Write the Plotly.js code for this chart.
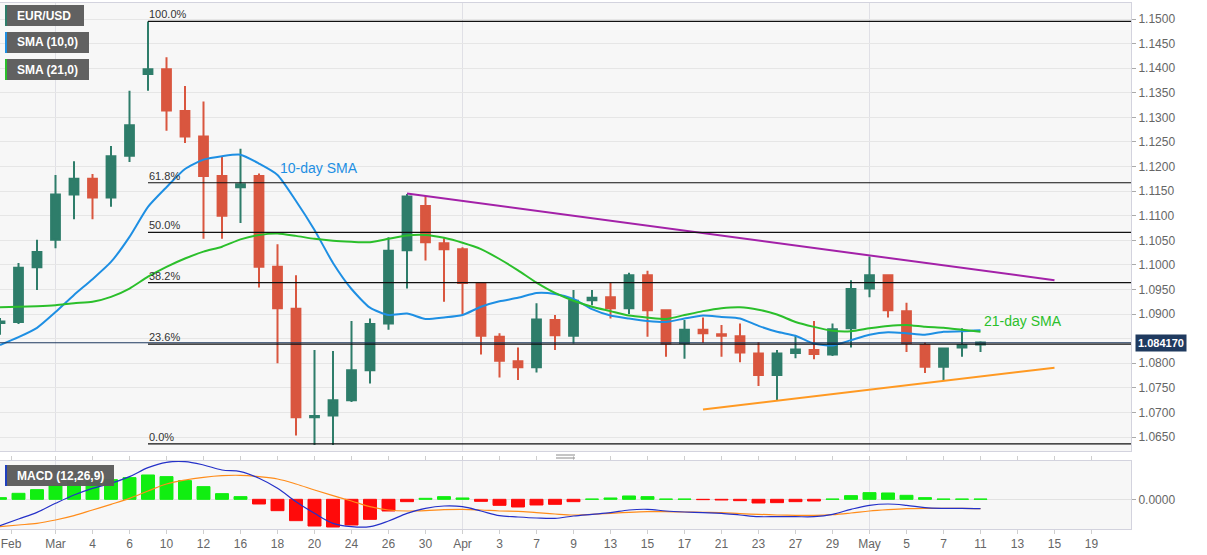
<!DOCTYPE html>
<html><head><meta charset="utf-8">
<script src="https://cdn.plot.ly/plotly-3.0.1.min.js"></script>
<style>html,body{margin:0;padding:0;background:#fff}#chart{width:1207px;height:555px}</style>
</head><body><div id="chart"></div>
<script>
// ---------- data ----------
const dates = ['2020-02-26','2020-02-27','2020-02-28','2020-03-02','2020-03-03','2020-03-04','2020-03-05','2020-03-06',
 '2020-03-09','2020-03-10','2020-03-11','2020-03-12','2020-03-13','2020-03-16','2020-03-17','2020-03-18','2020-03-19','2020-03-20',
 '2020-03-23','2020-03-24','2020-03-25','2020-03-26','2020-03-27','2020-03-30','2020-03-31','2020-04-01','2020-04-02','2020-04-03',
 '2020-04-06','2020-04-07','2020-04-08','2020-04-09','2020-04-10','2020-04-13','2020-04-14','2020-04-15','2020-04-16','2020-04-17',
 '2020-04-20','2020-04-21','2020-04-22','2020-04-23','2020-04-24','2020-04-27','2020-04-28','2020-04-29','2020-04-30','2020-05-01',
 '2020-05-04','2020-05-05','2020-05-06','2020-05-07','2020-05-08','2020-05-11'];
const futureDates = ['2020-05-12','2020-05-13','2020-05-14','2020-05-15','2020-05-18','2020-05-19'];

const open  = [1.0882,1.0884,1.0995,1.1051,1.1143,1.1175,1.1137,1.1222,1.1388,1.1398,1.1313,1.1261,1.1181,1.1158,1.1181,1.0996,1.0911,1.0690,
 1.0694,1.0725,1.0786,1.0881,1.1030,1.1120,1.1044,1.1032,1.0961,1.0854,1.0804,1.0792,1.0888,1.0856,1.0928,1.0934,1.0912,1.0979,1.0908,1.0841,
 1.0868,1.0859,1.0855,1.0820,1.0776,1.0821,1.0827,1.0818,1.0871,1.0952,1.0979,1.0906,1.0837,1.0793,1.0832,1.0838];
const high  = [1.0892,1.1004,1.1051,1.1183,1.1211,1.1185,1.1242,1.1354,1.1495,1.1422,1.1364,1.1332,1.1221,1.1236,1.1186,1.1042,1.0979,1.0827,
 1.0825,1.0886,1.0891,1.1056,1.1144,1.1140,1.1054,1.1036,1.0965,1.0861,1.0832,1.0922,1.0898,1.0949,1.0949,1.0965,1.0984,1.0988,1.0910,1.0888,
 1.0893,1.0878,1.0881,1.0843,1.0827,1.0856,1.0886,1.0881,1.0969,1.1017,1.0980,1.0923,1.0842,1.0832,1.0871,1.0845];
const low   = [1.0858,1.0880,1.0949,1.1034,1.1093,1.1093,1.1118,1.1209,1.1354,1.1273,1.1248,1.1053,1.1053,1.1085,1.0954,1.0800,1.0653,1.0634,
 1.0634,1.0721,1.0759,1.0868,1.0952,1.1009,1.0925,1.0900,1.0818,1.0771,1.0766,1.0781,1.0827,1.0840,1.0918,1.0891,1.0900,1.0854,1.0813,1.0809,
 1.0841,1.0813,1.0802,1.0754,1.0725,1.0810,1.0808,1.0815,1.0832,1.0934,1.0893,1.0823,1.0780,1.0765,1.0813,1.0823];
const close = [1.0885,1.0994,1.1026,1.1143,1.1175,1.1137,1.1221,1.1284,1.1398,1.1314,1.1261,1.1181,1.1100,1.1164,1.0996,1.0912,1.0690,1.0693,
 1.0725,1.0786,1.0880,1.1029,1.1139,1.1046,1.1032,1.0963,1.0856,1.0805,1.0792,1.0889,1.0857,1.0927,1.0933,1.0912,1.0979,1.0908,1.0840,1.0868,
 1.0861,1.0856,1.0822,1.0776,1.0820,1.0828,1.0819,1.0869,1.0951,1.0979,1.0908,1.0841,1.0793,1.0830,1.0837,1.0842];

const sma10 = [1.0837,1.0853,1.0872,1.0904,1.0939,1.0971,1.1006,1.1057,1.1118,1.1158,1.1195,1.1214,1.1221,1.1224,1.1206,1.1183,1.1130,1.1071,
 1.1004,1.0951,1.0913,1.0898,1.0901,1.0890,1.0893,1.0898,1.0915,1.0926,1.0933,1.0943,1.0941,1.0931,1.0910,1.0897,1.0891,1.0886,1.0884,1.0891,
 1.0897,1.0894,1.0891,1.0876,1.0864,1.0856,1.0840,1.0836,1.0847,1.0858,1.0863,1.0861,1.0858,1.0864,1.0865,1.0867];
const sma21 = [1.0914,1.0915,1.0916,1.0918,1.0922,1.0925,1.0935,1.0952,1.0976,1.0996,1.1013,1.1027,1.1037,1.1052,1.1061,1.1064,1.1059,1.1053,
 1.1049,1.1047,1.1046,1.1053,1.1060,1.1061,1.1055,1.1045,1.1032,1.1012,1.0989,1.0964,1.0943,1.0927,1.0915,1.0906,1.0897,1.0893,1.0890,1.0898,
 1.0906,1.0912,1.0914,1.0909,1.0899,1.0884,1.0874,1.0866,1.0865,1.0871,1.0876,1.0878,1.0874,1.0872,1.0868,1.0864];

const macdLine = [-0.0079,-0.0059,-0.0039,-0.0012,0.0013,0.0033,0.0048,0.0068,0.0095,0.0111,0.0113,0.0103,0.0088,0.0083,0.0063,0.0033,-0.0007,-0.0042,
 -0.0072,-0.0082,-0.0082,-0.0065,-0.0042,-0.0027,-0.0020,-0.0022,-0.0035,-0.0049,-0.0053,-0.0056,-0.0057,-0.0050,-0.0045,-0.0040,-0.0032,-0.0030,-0.0035,-0.0038,
 -0.0040,-0.0042,-0.0047,-0.0052,-0.0052,-0.0052,-0.0052,-0.0045,-0.0030,-0.0018,-0.0014,-0.0018,-0.0025,-0.0027,-0.0027,-0.0028];
const signalLine = [-0.0082,-0.0077,-0.0072,-0.0062,-0.0049,-0.0032,-0.0015,0.0003,0.0025,0.0046,0.0058,0.0066,0.0071,0.0072,0.0068,0.0061,0.0046,0.0028,
 0.0011,-0.0005,-0.0022,-0.0032,-0.0035,-0.0034,-0.0031,-0.0030,-0.0032,-0.0035,-0.0036,-0.0040,-0.0044,-0.0047,-0.0045,-0.0042,-0.0039,-0.0037,-0.0037,-0.0038,
 -0.0039,-0.0040,-0.0043,-0.0045,-0.0047,-0.0048,-0.0048,-0.0046,-0.0041,-0.0035,-0.0031,-0.0028,-0.0027,-0.0027,-0.0027,-0.0028];
const macdHist = [0.0005,0.0018,0.0029,0.0041,0.0053,0.0055,0.0059,0.0065,0.0073,0.0068,0.0056,0.0038,0.0017,0.0008,-0.0014,-0.0034,-0.0064,-0.0080,
 -0.0083,-0.0077,-0.0060,-0.0035,-0.0007,0.0003,0.0008,0.0004,-0.0006,-0.0018,-0.0023,-0.0017,-0.0015,-0.0007,0.0001,0.0004,0.0010,0.0008,0.0001,0.0001,
 -0.0001,-0.0002,-0.0004,-0.0011,-0.0010,-0.0007,-0.0005,0.0001,0.0011,0.0020,0.0019,0.0012,0.0005,0.0001,0.0001,0.0001];

const fibLabels = ['0.0%','23.6%','38.2%','50.0%','61.8%','100.0%'];
const fibPrices = [1.0636,1.0839,1.0964,1.1066,1.1167,1.1495];
const fibStartDate = '2020-03-09';
const downTrendDates = ['2020-03-27','2020-05-15'];
const downTrendPrices = [1.1145,1.0969];
const upTrendDates = ['2020-04-20','2020-05-15'];
const upTrendPrices = [1.0706,1.0791];
const lastPrice = 1.084170;

// price-axis labels (1.0850 sits under the price tag and is not shown)
const priceTicks = [1.0650,1.0700,1.0750,1.0800,1.0900,1.0950,1.1000,1.1050,1.1100,1.1150,1.1200,1.1250,1.1300,1.1350,1.1400,1.1450,1.1500];

const tickDates = ['2020-02-26','2020-03-02','2020-03-04','2020-03-06','2020-03-10','2020-03-12','2020-03-16','2020-03-18','2020-03-20',
 '2020-03-24','2020-03-26','2020-03-30','2020-04-01','2020-04-03','2020-04-07','2020-04-09','2020-04-13','2020-04-15','2020-04-17',
 '2020-04-21','2020-04-23','2020-04-27','2020-04-29','2020-05-01','2020-05-05','2020-05-07','2020-05-11','2020-05-13','2020-05-15','2020-05-19'];
const tickLabels = ['Feb','Mar','4','6','10','12','16','18','20','24','26','30','Apr','3','7','9','13','15','17','21','23','27','29',
 'May','5','7','11','13','15','19'];
const monthStarts = ['2020-03-02','2020-04-01','2020-05-01'];

// ---------- helpers ----------
const allDays = dates.concat(futureDates);
const idx = d => allDays.indexOf(d);
const xs = dates.map(d => idx(d));
const tickVals = tickDates.map(d => idx(d));
tickVals[0] += 0.6; // keep the first label inside the page

const PLOT_W = 1131, PLOT_T = 3, PLOT_B = 529, PLOT_H = PLOT_B - PLOT_T;
const PX = x => x / PLOT_W;
const PY = y => (PLOT_B - y) / PLOT_H;
const X_END = PLOT_W / 18.5;

const G = '#2e7d6a', R = '#d9563f';
const FONT = 'Liberation Sans, Arial, sans-serif';

const traces = [
  {type:'candlestick', x:xs, open:open, high:high, low:low, close:close, xaxis:'x', yaxis:'y',
   increasing:{line:{color:G,width:2}, fillcolor:G}, decreasing:{line:{color:R,width:2}, fillcolor:R},
   whiskerwidth:0, showlegend:false, hoverinfo:'skip'},
  {type:'scatter', mode:'lines', x:xs, y:sma10, line:{color:'#1e8fe3', width:2, shape:'spline', smoothing:0.6}, xaxis:'x', yaxis:'y', hoverinfo:'skip'},
  {type:'scatter', mode:'lines', x:xs, y:sma21, line:{color:'#2bbf2b', width:2, shape:'spline', smoothing:0.6}, xaxis:'x', yaxis:'y', hoverinfo:'skip'},
  {type:'scatter', mode:'lines', x:downTrendDates.map(idx), y:downTrendPrices, line:{color:'#a321a8', width:2}, xaxis:'x', yaxis:'y', hoverinfo:'skip'},
  {type:'scatter', mode:'lines', x:upTrendDates.map(idx), y:upTrendPrices, line:{color:'#ff9922', width:2}, xaxis:'x', yaxis:'y', hoverinfo:'skip'},
  {type:'bar', x:xs, y:macdHist, xaxis:'x', yaxis:'y2',
   marker:{color:macdHist.map(v => v >= 0 ? '#11ee11' : '#ff0a0a'),
           line:{color:macdHist.map(v => v >= 0 ? '#11ee11' : '#ff0a0a'), width:1}}, hoverinfo:'skip'},
  {type:'scatter', mode:'lines', x:xs, y:signalLine, line:{color:'#ff8c1a', width:1.2, shape:'spline'}, xaxis:'x', yaxis:'y2', hoverinfo:'skip'},
  {type:'scatter', mode:'lines', x:xs, y:macdLine, line:{color:'#2430c8', width:1.2, shape:'spline'}, xaxis:'x', yaxis:'y2', hoverinfo:'skip'}
];

const shapes = [];
const annotations = [];

// current price line
shapes.push({type:'line', xref:'x', yref:'y', x0:0, x1:X_END, y0:lastPrice, y1:lastPrice, line:{color:'#1f3a5f', width:1}});
// fib levels
fibPrices.forEach((p,k) => {
  shapes.push({type:'line', xref:'x', yref:'y', x0:idx(fibStartDate), x1:X_END, y0:p, y1:p, line:{color:'#111', width:1.2}});
  annotations.push({xref:'x', yref:'y', x:idx(fibStartDate), y:p, text:fibLabels[k], showarrow:false,
    xanchor:'left', yanchor:'bottom', xshift:-1, yshift:-1, font:{family:FONT, size:11, color:'#333'}});
});
// legend boxes
const boxes = [
  {t:'EUR/USD', x0:5, x1:84, y0:5, y1:26, c:'#2e7d6a'},
  {t:'SMA (10,0)', x0:5, x1:89, y0:32, y1:53, c:'#1e8fe3'},
  {t:'SMA (21,0)', x0:5, x1:89, y0:59, y1:80, c:'#2bbf2b'},
  {t:'MACD (12,26,9)', x0:5, x1:114, y0:465, y1:486, c:'#1f3fbf'}
];
boxes.forEach(b => {
  shapes.push({type:'rect', xref:'paper', yref:'paper', x0:PX(b.x0), x1:PX(b.x1), y0:PY(b.y1), y1:PY(b.y0),
    fillcolor:'#5c5c5c', line:{width:0}, opacity:0.97});
  shapes.push({type:'rect', xref:'paper', yref:'paper', x0:PX(b.x0), x1:PX(b.x0+2), y0:PY(b.y1), y1:PY(b.y0),
    fillcolor:b.c, line:{width:0}});
  annotations.push({xref:'paper', yref:'paper', x:PX(15), y:PY((b.y0+b.y1)/2), text:'<b>'+b.t+'</b>', showarrow:false,
    xanchor:'left', yanchor:'middle', font:{family:FONT, size:12, color:'#ffffff'}});
});
// panel separator handle
[455, 458].forEach(y => shapes.push({type:'line', xref:'paper', yref:'paper', x0:PX(556), x1:PX(575), y0:PY(y), y1:PY(y),
  line:{color:'#8a8a8a', width:1}}));

// text labels
annotations.push({xref:'x', yref:'y', x:15.05, y:1.1197, text:'10-day SMA', showarrow:false, xanchor:'left', yanchor:'middle',
  font:{family:FONT, size:14, color:'#1e8fe3'}});
annotations.push({xref:'x', yref:'y', x:53.1, y:1.0886, text:'21-day SMA', showarrow:false, xanchor:'left', yanchor:'middle',
  font:{family:FONT, size:14, color:'#2bbf2b'}});
// price tag
annotations.push({xref:'paper', yref:'y', x:1, y:lastPrice, xshift:4, text:'<b>'+lastPrice.toFixed(6)+'</b>', showarrow:false,
  xanchor:'left', yanchor:'middle', bgcolor:'#1f3a5f', borderpad:2, font:{family:FONT, size:11, color:'#ffffff'}});

const axisLine = '#d3d3de';
const layout = {
  width:1207, height:555,
  margin:{l:0, r:76, t:PLOT_T, b:555-PLOT_B, pad:0},
  paper_bgcolor:'#ffffff', plot_bgcolor:'#f7f7f7',
  showlegend:false, hovermode:false, bargap:0.3, boxgap:0.32,
  font:{family:FONT, size:12, color:'#666'},
  xaxis:{anchor:'y2', range:[0, X_END], type:'linear', showgrid:false, zeroline:false,
    tickmode:'array', tickvals:tickVals, ticktext:tickLabels, ticks:'outside', ticklen:4, tickcolor:'#cfcfcf',
    ticklabeloverflow:'allow',
    tickfont:{family:FONT, size:12, color:'#666'},
    showline:true, mirror:'all', linecolor:axisLine, linewidth:1,
    minor:{tickmode:'array', tickvals:monthStarts.map(idx), showgrid:true, gridcolor:'#e0e0e6', gridwidth:1, ticks:''},
    rangeslider:{visible:false}, fixedrange:true},
  yaxis:{domain:[PY(451), 1], range:[1.15 - (451-19)/4918, 1.15 + (19-3)/4918], side:'right', anchor:'x',
    tickmode:'array', tickvals:priceTicks, tickformat:'.4f', ticks:'outside', ticklen:4, tickcolor:'#aaa',
    showgrid:true, gridcolor:'#e6e6e6', zeroline:false, showline:true, mirror:'all', linecolor:axisLine,
    minor:{tickmode:'linear', tick0:1.0, dtick:0.005, showgrid:true, gridcolor:'#e6e6e6', ticks:''},
    tickfont:{family:FONT, size:12, color:'#666'}, fixedrange:true},
  yaxis2:{domain:[0, PY(461)], range:[-0.0089, 0.01149], side:'right', anchor:'x',
    tickmode:'array', tickvals:[0], ticktext:['0.0000'], ticks:'outside', ticklen:4, tickcolor:'#aaa',
    showgrid:true, gridcolor:'#e2e2e2', zeroline:false, showline:true, mirror:'all', linecolor:axisLine,
    tickfont:{family:FONT, size:12, color:'#666'}, fixedrange:true},
  shapes:shapes, annotations:annotations
};

Plotly.newPlot('chart', traces, layout, {displayModeBar:false, staticPlot:true});
</script>
</body></html>
